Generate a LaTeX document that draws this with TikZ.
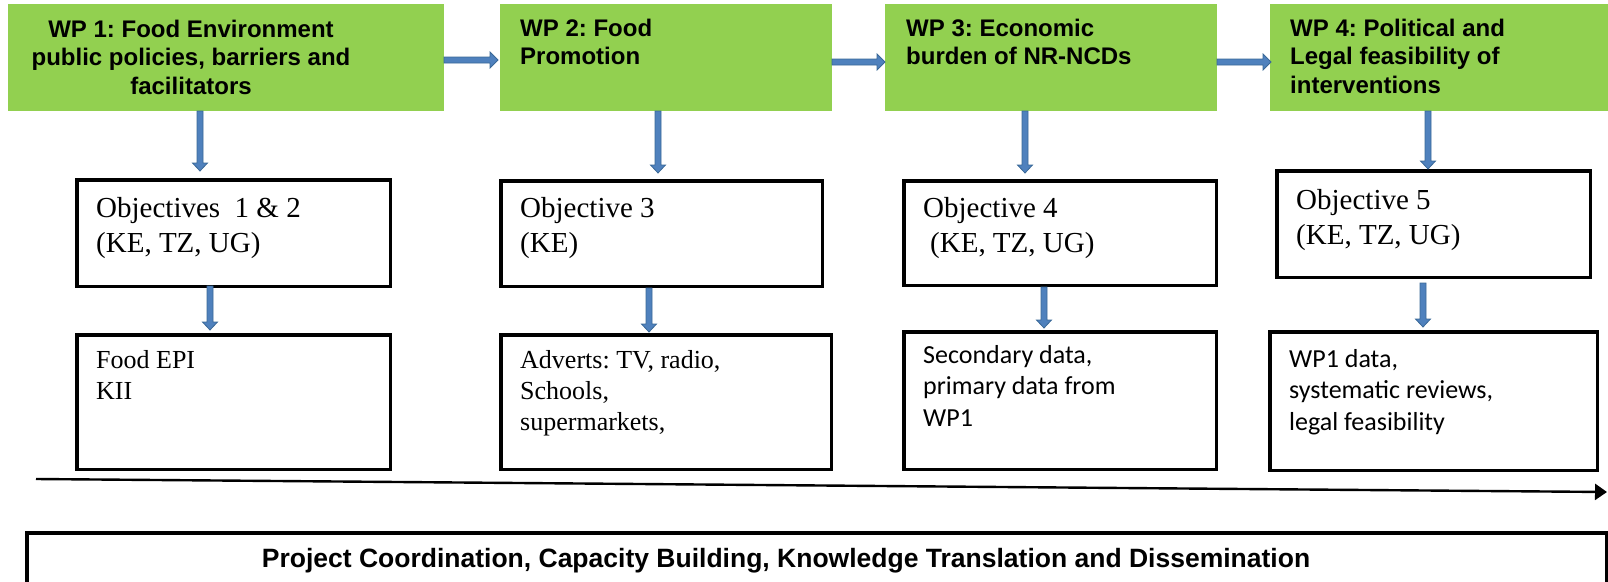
\documentclass[tikz,border=0pt]{standalone}
\usepackage{fontspec}
\setmainfont{Liberation Serif}
\setsansfont{Liberation Sans}
\newfontfamily\calibrifont{Carlito}
\usetikzlibrary{arrows.meta,calc}
\frenchspacing

\definecolor{wpgreen}{HTML}{92D050}
\definecolor{arrowfill}{HTML}{4F81BD}
\definecolor{arrowedge}{HTML}{3A6897}

% multi-line text whose baseline is the baseline of its first line
\newcommand\textlines[2][l]{\begin{tabular}[t]{@{}#1@{}}#2\end{tabular}}

% vertical block arrow: starts at #1, tip at the height of #2
\newcommand\vblock[2]{%
  \path[blockarrow] let \p1=#1, \p2=#2 in
    (\x1-3pt,\y1) -- (\x1+3pt,\y1) -- (\x1+3pt,\y2+8pt) -- (\x1+7.5pt,\y2+8pt)
    -- (\x1,\y2) -- (\x1-7.5pt,\y2+8pt) -- (\x1-3pt,\y2+8pt) -- cycle;}

% horizontal block arrow: starts at #1, tip at the x position of #2
\newcommand\hblock[2]{%
  \path[blockarrow] let \p1=#1, \p2=#2 in
    (\x1,\y1+3pt) -- (\x2-8pt,\y1+3pt) -- (\x2-8pt,\y1+8pt) -- (\x2,\y1)
    -- (\x2-8pt,\y1-8pt) -- (\x2-8pt,\y1-3pt) -- (\x1,\y1-3pt) -- cycle;}

\begin{document}
\begin{tikzpicture}[x=1pt,y=-1pt,
  wpbox/.style={fill=wpgreen, inner sep=0pt, outer sep=0pt, anchor=north west},
  objbox/.style={draw=black, line width=3.5pt, inner sep=0pt, anchor=north west},
  wptext/.style={font=\sffamily\bfseries\fontsize{24}{28.5}\selectfont, inner sep=0pt},
  objtext/.style={font=\fontsize{29}{35}\selectfont, inner sep=0pt, anchor=base west},
  datatext/.style={font=\fontsize{26}{31}\selectfont, inner sep=0pt, anchor=base west},
  calibritext/.style={font=\calibrifont\fontsize{26}{31.5}\selectfont, inner sep=0pt, anchor=base west},
  bartext/.style={font=\sffamily\bfseries\fontsize{26.5}{30}\selectfont, inner sep=0pt, anchor=base},
  blockarrow/.style={fill=arrowfill, draw=arrowedge, line width=0.8pt, line join=miter},
  timeline/.style={line width=2.4pt, -{Triangle[length=12pt,width=16pt]}}]

\useasboundingbox (0,0) rectangle (1608,581);

% work packages
\node[wpbox, minimum width=436, minimum height=107] (wp1) at (8,4) {};
\node[wpbox, minimum width=332, minimum height=107] (wp2) at (500,4) {};
\node[wpbox, minimum width=332, minimum height=107] (wp3) at (885,4) {};
\node[wpbox, minimum width=338, minimum height=107] (wp4) at (1270,4) {};

\node[wptext, anchor=base] (wp1-text) at (191,37)
  {\textlines[c]{WP 1: Food Environment\\public policies, barriers and\\facilitators}};
\node[wptext, anchor=base west] (wp2-text) at (520,36)
  {\textlines{WP 2: Food\\Promotion}};
\node[wptext, anchor=base west] (wp3-text) at (906,36)
  {\textlines{WP 3: Economic\\burden of NR-NCDs}};
\node[wptext, anchor=base west] (wp4-text) at (1290,36)
  {\textlines{WP 4: Political and\\Legal feasibility of\\interventions}};

% objectives
\node[objbox, minimum width=313.5, minimum height=106.5] (o1) at (75,178) {};
\node[objbox, minimum width=321.5, minimum height=105.5] (o3) at (499,179) {};
\node[objbox, minimum width=312.5, minimum height=104.5] (o4) at (902,179) {};
\node[objbox, minimum width=313.5, minimum height=106.5] (o5) at (1275,169) {};

\node[objtext] (o1-text) at (96,217) {\textlines{Objectives\ \ 1 \& 2\\(KE, TZ, UG)}};
\node[objtext] (o3-text) at (520,217) {\textlines{Objective 3\\(KE)}};
\node[objtext] (o4-text) at (923,217) {\textlines{Objective 4\\\hspace*{7pt}(KE, TZ, UG)}};
\node[objtext] (o5-text) at (1296,209) {\textlines{Objective 5\\(KE, TZ, UG)}};

% data sources and methods
\node[objbox, minimum width=313.5, minimum height=134.5] (d1) at (75,333) {};
\node[objbox, minimum width=330.5, minimum height=134.5] (d3) at (499,333) {};
\node[objbox, minimum width=312.5, minimum height=137.5] (d4) at (902,330) {};
\node[objbox, minimum width=327.5, minimum height=138.5] (d5) at (1268,330) {};

\node[datatext] (d1-text) at (96,368) {\textlines{Food EPI\\KII}};
\node[datatext] (d3-text) at (520,368) {\textlines{Adverts: TV, radio,\\Schools,\\supermarkets,}};
\node[calibritext] (d4-text) at (923,363) {\textlines{Secondary data,\\primary data from\\WP1}};
\node[calibritext] (d5-text) at (1289,367) {\textlines{WP1 data,\\systematic reviews,\\legal feasibility}};

% flow between work packages
\hblock{([yshift=-2.5pt]wp1.east)}{([xshift=-2pt]wp2.west)}
\hblock{([yshift=-4.5pt]wp2.east)}{(wp3.west)}
\hblock{([yshift=-4.5pt]wp3.east)}{([xshift=1pt]wp4.west)}

% work package -> objective -> data
\vblock{([xshift=-26pt]wp1.south)}{([yshift=7pt]o1.north)}
\vblock{([xshift=-23.5pt,yshift=2pt]o1.south)}{([yshift=3pt]d1.north)}
\vblock{([xshift=-8pt]wp2.south)}{([yshift=6pt]o3.north)}
\vblock{([xshift=-12.5pt]o3.south)}{([yshift=1pt]d3.north)}
\vblock{([xshift=-26pt]wp3.south)}{([yshift=6pt]o4.north)}
\vblock{([xshift=-16pt]o4.south)}{([yshift=2pt]d4.north)}
\vblock{([xshift=-11pt]wp4.south)}{(o5.north)}
\vblock{([xshift=-10.5pt,yshift=-4pt]o5.south)}{([yshift=3pt]d5.north)}

% time line
\coordinate (tl-start) at (36,479);
\coordinate (tl-end) at (1607,492);
\draw[timeline] (tl-start) -- (tl-end);

% cross-cutting activities
\node[objbox, minimum width=1579.5, minimum height=80] (bar) at (25,531) {};
\node[bartext] (bar-text) at (786,567)
  {Project Coordination, Capacity Building, Knowledge Translation and Dissemination};

\end{tikzpicture}
\end{document}
